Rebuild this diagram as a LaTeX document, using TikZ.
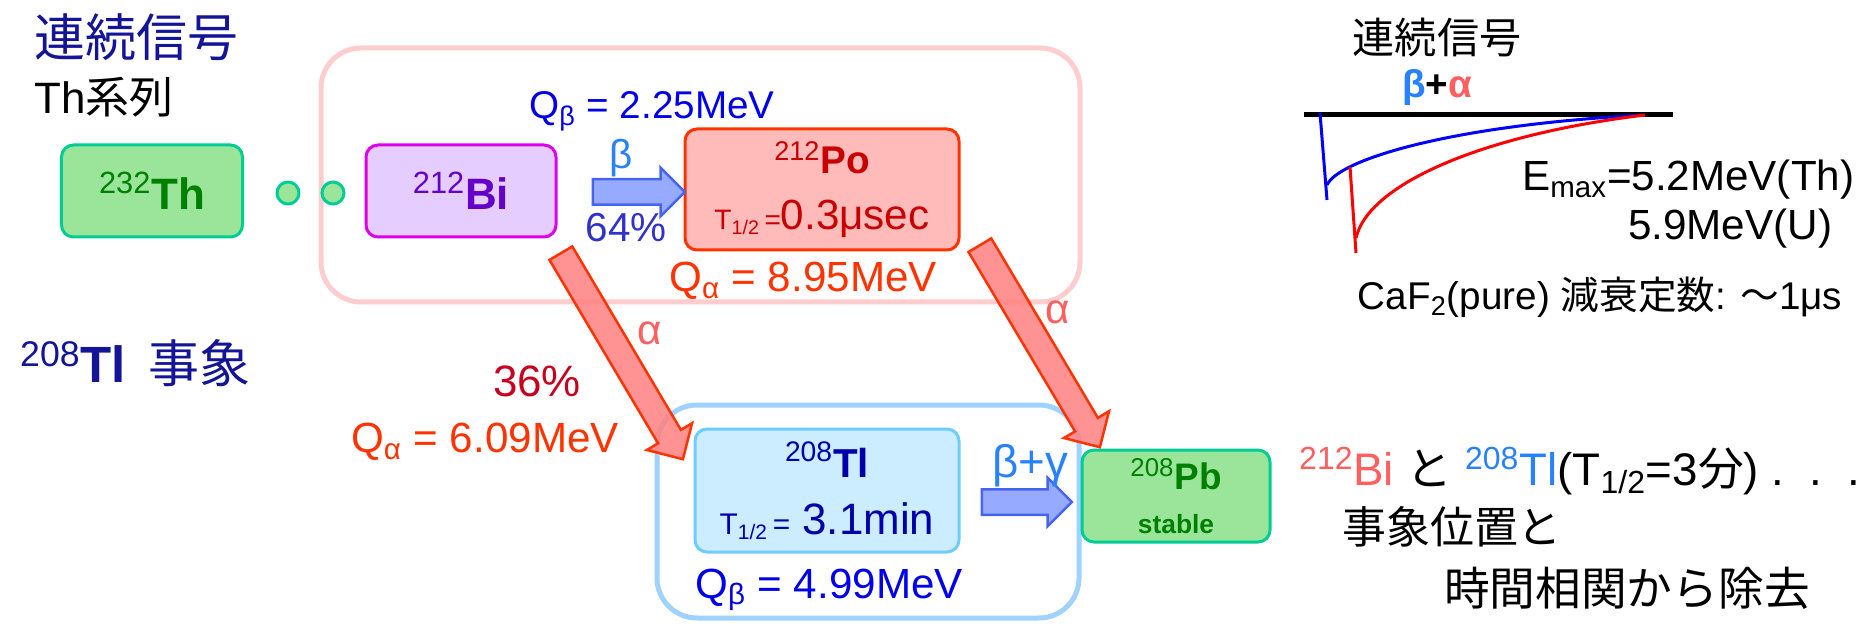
\documentclass[tikz,border=0pt]{standalone}
\usepackage{fontspec}
\setmainfont{Liberation Sans}
\newfontfamily\jp{Noto Sans CJK JP}
\usepackage{xcolor}
\usepackage{tikz}
\usetikzlibrary{calc,shapes.arrows}

\definecolor{navy}{RGB}{20,20,150}
\definecolor{thgreen}{RGB}{155,229,155}
\definecolor{thline}{RGB}{0,204,150}
\definecolor{darkgreen}{RGB}{0,128,0}
\definecolor{bifill}{RGB}{230,205,255}
\definecolor{biline}{RGB}{220,0,235}
\definecolor{bitext}{RGB}{100,0,200}
\definecolor{pofill}{RGB}{255,186,186}
\definecolor{poline}{RGB}{255,51,0}
\definecolor{potext}{RGB}{200,0,0}
\definecolor{tlfill}{RGB}{204,236,255}
\definecolor{tlline}{RGB}{110,205,255}
\definecolor{tltext}{RGB}{0,0,170}
\definecolor{qblue}{RGB}{0,0,235}
\definecolor{qred}{RGB}{255,51,0}
\definecolor{alred}{RGB}{255,95,95}
\definecolor{betablue}{RGB}{40,130,255}
\definecolor{pctblue}{RGB}{50,50,200}
\definecolor{pctred}{RGB}{200,0,30}
\definecolor{pinkframe}{RGB}{255,205,205}
\definecolor{blueframe}{RGB}{160,210,255}
\definecolor{arrfill}{RGB}{150,170,255}
\definecolor{arrline}{RGB}{70,100,240}
\definecolor{redfill}{RGB}{255,128,128}

\newcommand{\fsz}[1]{\fontsize{#1}{#1}\selectfont}
\newcommand{\fatarrow}[3]{%
  \path let \p1=(#2), \p2=(#3), \n1={atan2(\y2-\y1,\x2-\x1)}, \n2={veclen(\x2-\x1,\y2-\y1)} in
    node[#1, minimum height=\n2, rotate=\n1] at ($(#2)!0.5!(#3)$) {};}

\begin{document}
\begin{tikzpicture}[x=0.2mm, y=-0.2mm]
\tikzset{
  nuc/.style={draw, rounded corners=2.4mm, line width=0.6mm, align=center, inner sep=0pt},
  grp/.style={line width=1mm, rounded corners=8mm},
  dot/.style={circle, draw=thline, fill=thgreen, line width=0.6mm, minimum size=4.4mm, inner sep=0pt},
  fatblue/.style={single arrow, draw=arrline, fill=arrfill, line width=0.5mm, inner xsep=0pt, inner ysep=2.3mm, single arrow head extend=2.3mm, single arrow tip angle=90},
  fatred/.style={single arrow, draw=qred, fill=redfill, fill opacity=0.85, line width=0.5mm, inner xsep=0pt, inner ysep=2.4mm, single arrow head extend=2.6mm, single arrow tip angle=90},
  pulseb/.style={draw=blue, line width=0.6mm},
  pulser/.style={draw=red, line width=0.6mm},
}
\useasboundingbox (0,0) rectangle (1876,629);

\node[anchor=west, text=navy, font=\jp\fsz{29}] (ttl) at (28,37) {連続信号};
\node[anchor=west, font=\fsz{25}] (ser) at (28,97) {Th{\jp 系列}};
\node[anchor=west, text=navy, font=\fsz{29}] (tlev) at (14,363) {\textsuperscript{208}\textbf{Tl}\,\ {\jp 事象}};

\draw[grp, draw=pinkframe] (321,48) rectangle (1080,302);
\draw[grp, draw=blueframe] (657,405) rectangle (1079,618);

\node[nuc, fill=thgreen, draw=thline, minimum width=36.2mm, minimum height=18.4mm, text=darkgreen, font=\fsz{25}\bfseries] (th) at (152,191) {\textsuperscript{\mdseries 232}Th};
\node[dot] (d1) at (288,193) {};
\node[dot] (d2) at (333,193) {};
\node[nuc, fill=bifill, draw=biline, minimum width=38mm, minimum height=18.4mm, text=bitext, font=\fsz{25}\bfseries] (bi) at (461,191) {\textsuperscript{\mdseries 212}Bi};
\node[nuc, fill=pofill, draw=poline, minimum width=54.8mm, minimum height=24.2mm, text=potext, font=\fsz{24}] (po) at (822,189.5) {{\bfseries\fsz{22}\textsuperscript{\mdseries 212}Po}\\[2.8mm] {\fsz{16}T\textsubscript{1/2}\,=}0.3μsec};
\node[nuc, fill=tlfill, draw=tlline, minimum width=52.8mm, minimum height=24.6mm, text=tltext, font=\fsz{25}] (tl) at (827,490.5) {{\bfseries\fsz{23}\textsuperscript{\mdseries 208}Tl}\\[2.6mm] {\fsz{17}T\textsubscript{1/2}\,=}\ 3.1min};
\node[nuc, fill=thgreen, draw=thline, minimum width=37.6mm, minimum height=18.4mm, text=darkgreen, font=\fsz{21}\bfseries] (pb) at (1176,496) {\textsuperscript{\mdseries 208}Pb\\[1.5mm] {\fsz{15}stable}};

\coordinate (b1s) at ($(bi.east)+(29,1)$);
\coordinate (b1e) at ($(po.west)+(-5,2.5)$);
\coordinate (b2s) at ($(tl.east)+(15,11.5)$);
\coordinate (b2e) at ($(pb.west)+(-15,6)$);
\coordinate (a1s) at ($(bi.south east)+(0,9)$);
\coordinate (a1e) at ($(tl.north west)+(-14,26)$);
\coordinate (a2s) at ($(po.south east)+(16,-12)$);
\coordinate (a2e) at ($(pb.north west)+(16,-7)$);
\fatarrow{fatblue}{b1s}{b1e}
\fatarrow{fatblue}{b2s}{b2e}
\fatarrow{fatred}{a1s}{a1e}
\fatarrow{fatred}{a2s}{a2e}

\node[text=qblue, font=\fsz{22}] (qb1) at (652,111) {Q\textsubscript{β} = 2.25MeV};
\node[text=betablue, font=\fsz{23}] (lb1) at (621,158) {β};
\node[text=pctblue, font=\fsz{23}] (p64) at (626,228) {64\%};
\node[text=qred, font=\fsz{24}] (qa1) at (803,281) {Q\textsubscript{α} = 8.95MeV};
\node[text=alred, font=\fsz{24}] (al1) at (650,333) {α};
\node[text=pctred, font=\fsz{25}] (p36) at (537,381) {36\%};
\node[text=qred, font=\fsz{24}] (qa2) at (485,442) {Q\textsubscript{α} = 6.09MeV};
\node[text=alred, font=\fsz{24}] (al2) at (1058,312) {α};
\node[text=betablue, font=\fsz{26}] (lbg) at (1030,466) {β+γ};
\node[text=qblue, font=\fsz{24}] (qb2) at (829,590) {Q\textsubscript{β} = 4.99MeV};

\node[font=\jp\fsz{24}] (sig) at (1437,37) {連続信号};
\node[font=\fsz{22}\bfseries] (ba) at (1437,88) {\textcolor{betablue}{β}+\textcolor{alred}{α}};
\coordinate (bl0) at (1304,115);
\coordinate (bl1) at (1673,115);
\draw[line width=1mm] (bl0) -- (bl1);
\draw[pulseb] (1320,113) -- (1327,200);
\draw[pulseb] (1327,185) .. controls (1338,160) and (1450,125) .. (1645,115);
\draw[pulser] (1350,167) -- (1356,253);
\draw[pulser] (1356,238) .. controls (1368,185) and (1480,135) .. (1645,115);
\node[anchor=west, font=\fsz{24}] (emax) at (1516,180) {E\textsubscript{max}=5.2MeV(Th)};
\node[anchor=west, font=\fsz{24}] (emu) at (1622,229) {5.9MeV(U)};
\node[font=\fsz{22}] (caf) at (1600,297) {CaF\textsubscript{2}(pure) {\jp 減衰定数}: {\jp ～}1μs};

\node[anchor=west, font=\fsz{26}] (rm1) at (1293,471) {\textcolor{alred}{\textsuperscript{212}Bi} {\jp と} \textcolor{betablue}{\textsuperscript{208}Tl}(T\textsubscript{1/2}=3{\jp 分})\ .\ \ .\ \ .};
\node[anchor=west, font=\jp\fsz{25}] (rm2) at (1336,527) {事象位置と};
\node[anchor=west, font=\jp\fsz{26}] (rm3) at (1438,588) {時間相関から除去};
\end{tikzpicture}
\end{document}
